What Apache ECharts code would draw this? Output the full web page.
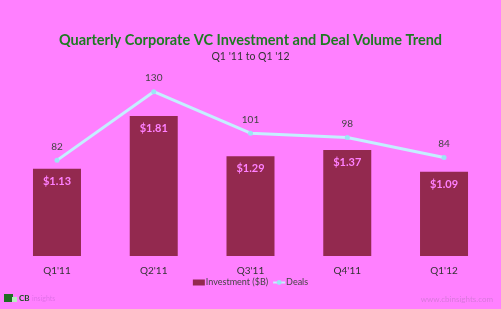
<!DOCTYPE html>
<html>
<head>
<meta charset="utf-8">
<script src="https://cdn.jsdelivr.net/npm/echarts@6/dist/echarts.min.js"></script>
<style>
  html, body { margin: 0; padding: 0; background: #ff80ff; }
  #chart { width: 501px; height: 309px; }
</style>
</head>
<body>
<div id="chart"></div>
<script>
// quarters on the x axis
var quarters = ["Q1'11", "Q2'11", "Q3'11", "Q4'11", "Q1'12"];
// corporate VC investment, $B
var investment = [1.13, 1.81, 1.29, 1.37, 1.09];
// number of deals
var deals = [82, 130, 101, 98, 84];

var chart = echarts.init(document.getElementById('chart'));

var option = {
    backgroundColor: '#ff80ff',
    textStyle: { fontFamily: 'Lato' },
    title: [
        {
            text: 'Quarterly Corporate VC Investment and Deal Volume Trend',
            left: 'center',
            top: 28,
            textStyle: { color: '#1e7a22', fontSize: 14.5, fontWeight: 'bold', fontFamily: 'Lato' }
        },
        {
            text: "Q1 '11 to Q1 '12",
            left: 'center',
            top: 46,
            textStyle: { color: '#333', fontSize: 10.5, fontWeight: 'normal', fontFamily: 'Lato' }
        }
    ],
    legend: {
        bottom: 17,
        left: 'center',
        itemWidth: 12,
        itemHeight: 6,
        itemGap: 4,
        textStyle: { color: '#444', fontSize: 9, padding: [0, 0, 0, -4] },
        data: [
            { name: 'Investment ($B)', icon: 'rect' },
            { name: 'Deals' }
        ]
    },
    grid: { left: 8.6, right: 8.6, top: 80, bottom: 53 },
    xAxis: {
        type: 'category',
        data: quarters,
        axisLine: { show: false },
        axisTick: { show: false },
        axisLabel: { color: '#333', fontSize: 10, margin: 10 }
    },
    yAxis: [
        { type: 'value', min: 0, max: 2.277, show: false },
        { type: 'value', min: 15.1, max: 138.2, show: false }
    ],
    series: [
        {
            name: 'Investment ($B)',
            type: 'bar',
            data: investment,
            barWidth: 48,
            yAxisIndex: 0,
            itemStyle: { color: '#93294f' },
            label: {
                show: true,
                position: 'insideTop',
                distance: 7,
                color: '#ff80ff',
                fontWeight: 'bold',
                fontSize: 11,
                formatter: function (p) { return '$' + p.value.toFixed(2); }
            }
        },
        {
            name: 'Deals',
            type: 'line',
            data: deals,
            yAxisIndex: 1,
            symbol: 'circle',
            symbolSize: 5,
            lineStyle: { color: '#c4efff', width: 3 },
            itemStyle: { color: '#9be6f5' },
            label: {
                show: true,
                position: 'top',
                distance: 6,
                color: '#444',
                fontSize: 10
            }
        }
    ],
    graphic: [
        { type: 'rect', left: 4, top: 294, shape: { width: 9, height: 8 }, style: { fill: '#1e6e22' } },
        { type: 'rect', left: 12, top: 297, shape: { width: 5, height: 5 }, style: { fill: '#b8f0c0' } },
        { type: 'text', left: 19, top: 294, style: { text: 'CB', fill: '#1a4d1f', fontSize: 8, fontWeight: 'bold', fontFamily: 'Lato' } },
        { type: 'text', left: 32, top: 295, style: { text: 'insights', fill: '#e070e8', fontSize: 7, fontFamily: 'Lato' } },
        { type: 'text', right: 8, top: 295, style: { text: 'www.cbinsights.com', fill: '#d878dc', fontSize: 8, fontFamily: 'Lato' } }
    ]
};

chart.setOption(option);
</script>
</body>
</html>
